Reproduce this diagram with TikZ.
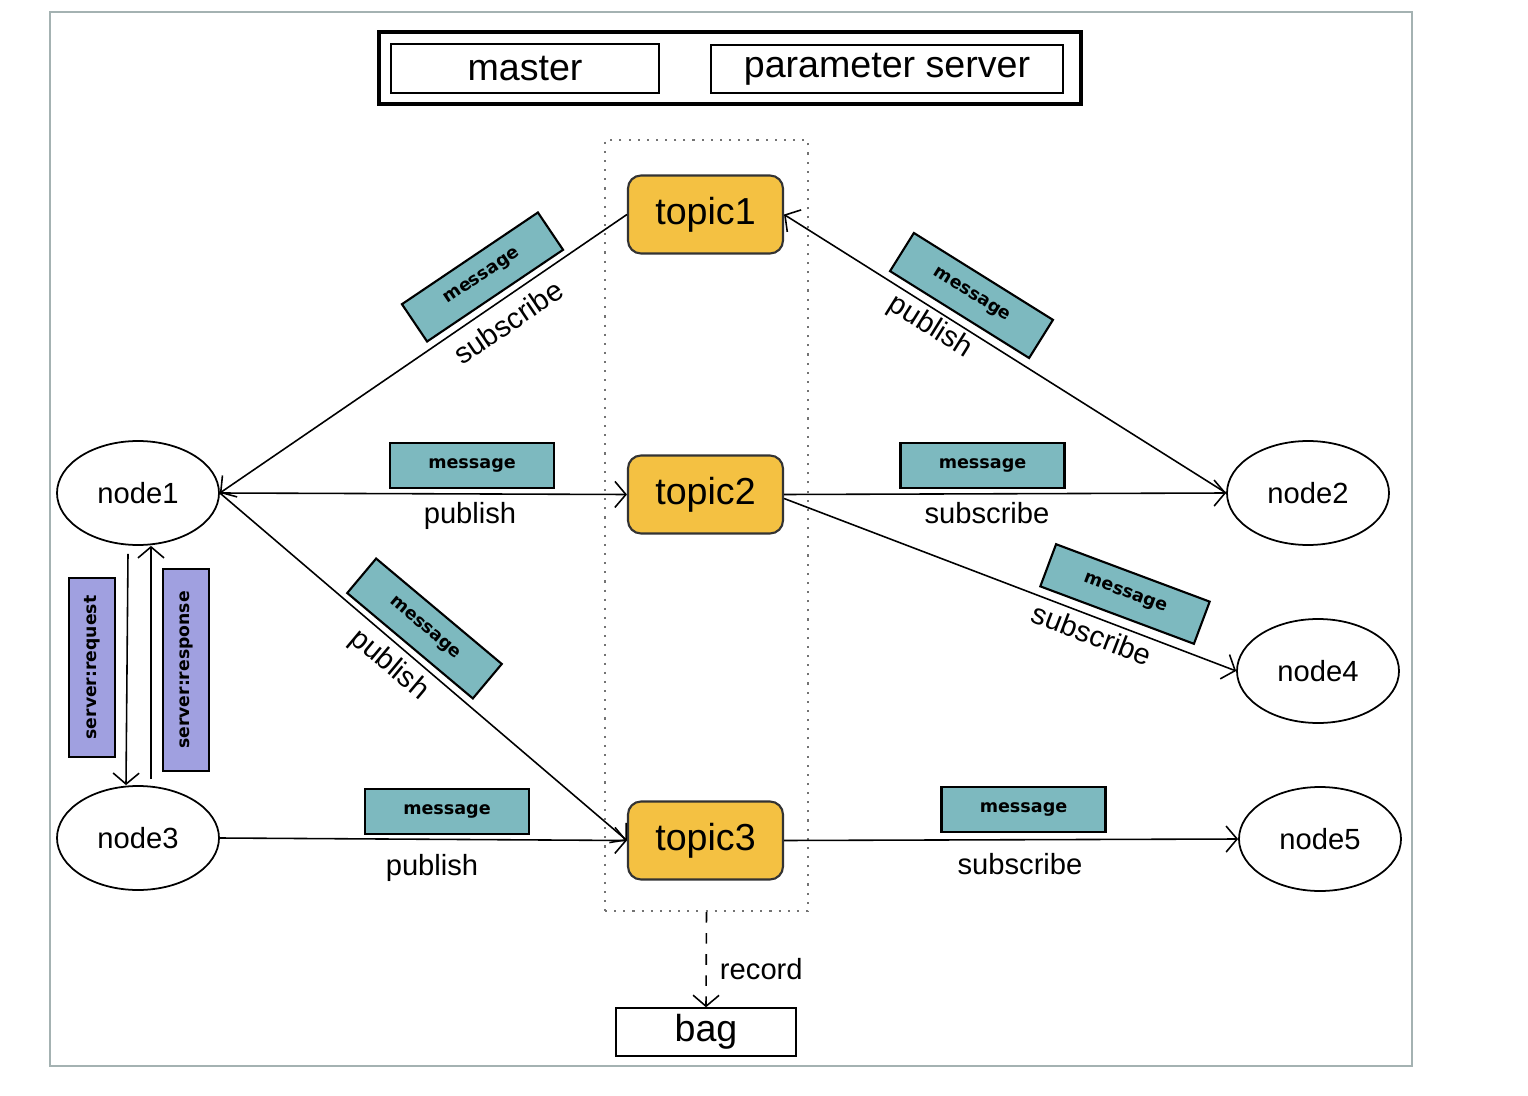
\documentclass[tikz,border=0pt]{standalone}
\usepackage{fontspec}
\setmainfont{Liberation Sans}
\newfontfamily\boxfont{DejaVu Sans}
\usetikzlibrary{arrows.meta, shapes.geometric}
\definecolor{topicfill}{HTML}{F4C142}
\definecolor{msgfill}{HTML}{7DB9BF}
\definecolor{srvfill}{HTML}{A0A0E0}
\definecolor{framegray}{HTML}{A4B2B2}

\begin{document}
\begin{tikzpicture}[x=0.1mm, y=-0.1mm,
  >={Straight Barb[length=1.1mm,width=2.6mm]},
  conn/.style={line width=0.45pt, ->},
  topic/.style={draw=black!80, line width=0.6pt, fill=topicfill, rounded corners=1.3mm,
    minimum width=15.5mm, minimum height=7.8mm, font=\fontsize{10.7}{12}\selectfont},
  rosnode/.style={draw, ellipse, line width=0.5pt, minimum width=16.2mm, minimum height=10.4mm,
    inner sep=0pt, font=\fontsize{8.3}{10}\selectfont},
  msg/.style={draw, line width=0.6pt, fill=msgfill, minimum width=16.4mm, minimum height=4.5mm,
    inner sep=0pt, font=\boxfont\bfseries\fontsize{5}{6}\selectfont},
  srv/.style={draw, line width=0.6pt, fill=srvfill, minimum height=4.6mm, inner sep=0pt,
    rotate=90, font=\boxfont\bfseries\fontsize{4.9}{6}\selectfont},
  lbl/.style={font=\fontsize{8.3}{10}\selectfont, inner sep=0pt},
  plainbox/.style={draw, line width=0.4pt, inner sep=0pt, font=\fontsize{10.7}{12}\selectfont}]
  \useasboundingbox (0,0) rectangle (1528,1096);

  % frame and top bar
  \draw[framegray, line width=0.8pt] (50,12) rectangle (1412,1066);
  \draw[line width=0.9pt] (379,32) rectangle (1081,104);
  \node[plainbox, minimum width=26.8mm, minimum height=4.9mm] (master) at (525,68.5) {master};
  \node[plainbox, minimum width=35.2mm, minimum height=4.8mm] (params) at (887,69) {parameter server};

  % topics
  \node[draw=black!55, dotted, line width=0.6pt, minimum width=20.3mm, minimum height=77.1mm] (topicbox) at (706.5,525.5) {};
  \node[topic] (topic1) at (705.5,214.5) {topic1};
  \node[topic] (topic2) at (705.5,494.5) {topic2};
  \node[topic] (topic3) at (705.5,840.5) {topic3};

  % nodes
  \node[rosnode] (node1) at (138,493) {node1};
  \node[rosnode] (node3) at (138,838) {node3};
  \node[rosnode] (node2) at (1308,493) {node2};
  \node[rosnode] (node4) at (1318,671) {node4};
  \node[rosnode] (node5) at (1320,839) {node5};
  \node[plainbox, minimum width=18mm, minimum height=4.8mm] (bag) at (706,1032) {bag};

  % connectors
  \draw[conn] (topic1.west) -- (node1.east);
  \draw[conn] (node2.west) -- (topic1.east);
  \draw[conn] (node1.east) -- (topic2.west);
  \draw[conn] (topic2.east) -- (node2.west);
  \draw[conn] ([yshift=-0.4mm]topic2.east) -- (node4.west);
  \draw[conn] (node1.east) -- (topic3.west);
  \draw[conn] (node3.east) -- (topic3.west);
  \draw[conn] (topic3.east) -- (node5.west);
  \draw[conn] ([xshift=-1mm,yshift=-0.8mm]node1.south) -- ([xshift=-1.2mm]node3.north);
  \draw[conn] ([xshift=1.3mm,yshift=0.6mm]node3.north) -- ([xshift=1.3mm]node1.south);
  \draw[conn, dashed] (topicbox.south) -- (bag.north) node[lbl, pos=0.6, right=1.3mm] {record};

  % message boxes
  \node[msg, rotate=34] (msg1) at (482.5,277) {message};
  \node[msg, rotate=-32] (msg2) at (971.5,295.5) {message};
  \node[msg] (msg3) at (472,465.5) {message};
  \node[msg] (msg4) at (982.5,465.5) {message};
  \node[msg, rotate=-20.5] (msg5) at (1125,594) {message};
  \node[msg, rotate=-40] (msg6) at (424.5,628.5) {message};
  \node[msg] (msg7) at (447,811.5) {message};
  \node[msg] (msg8) at (1023.5,809.5) {message};

  % services
  \node[srv, minimum width=17.9mm] (req) at (92,667.5) {server:request};
  \node[srv, minimum width=20.2mm] (resp) at (186,670) {server:response};

  % labels
  \node[lbl, rotate=34] at (508,322) {subscribe};
  \node[lbl, rotate=-32] at (930,327) {publish};
  \node[lbl] at (470,516) {publish};
  \node[lbl] at (987,513) {subscribe};
  \node[lbl, rotate=-21] at (1092,634) {subscribe};
  \node[lbl, rotate=-40] at (389,665) {publish};
  \node[lbl] at (432,868) {publish};
  \node[lbl] at (1020,864) {subscribe};
\end{tikzpicture}
\end{document}
